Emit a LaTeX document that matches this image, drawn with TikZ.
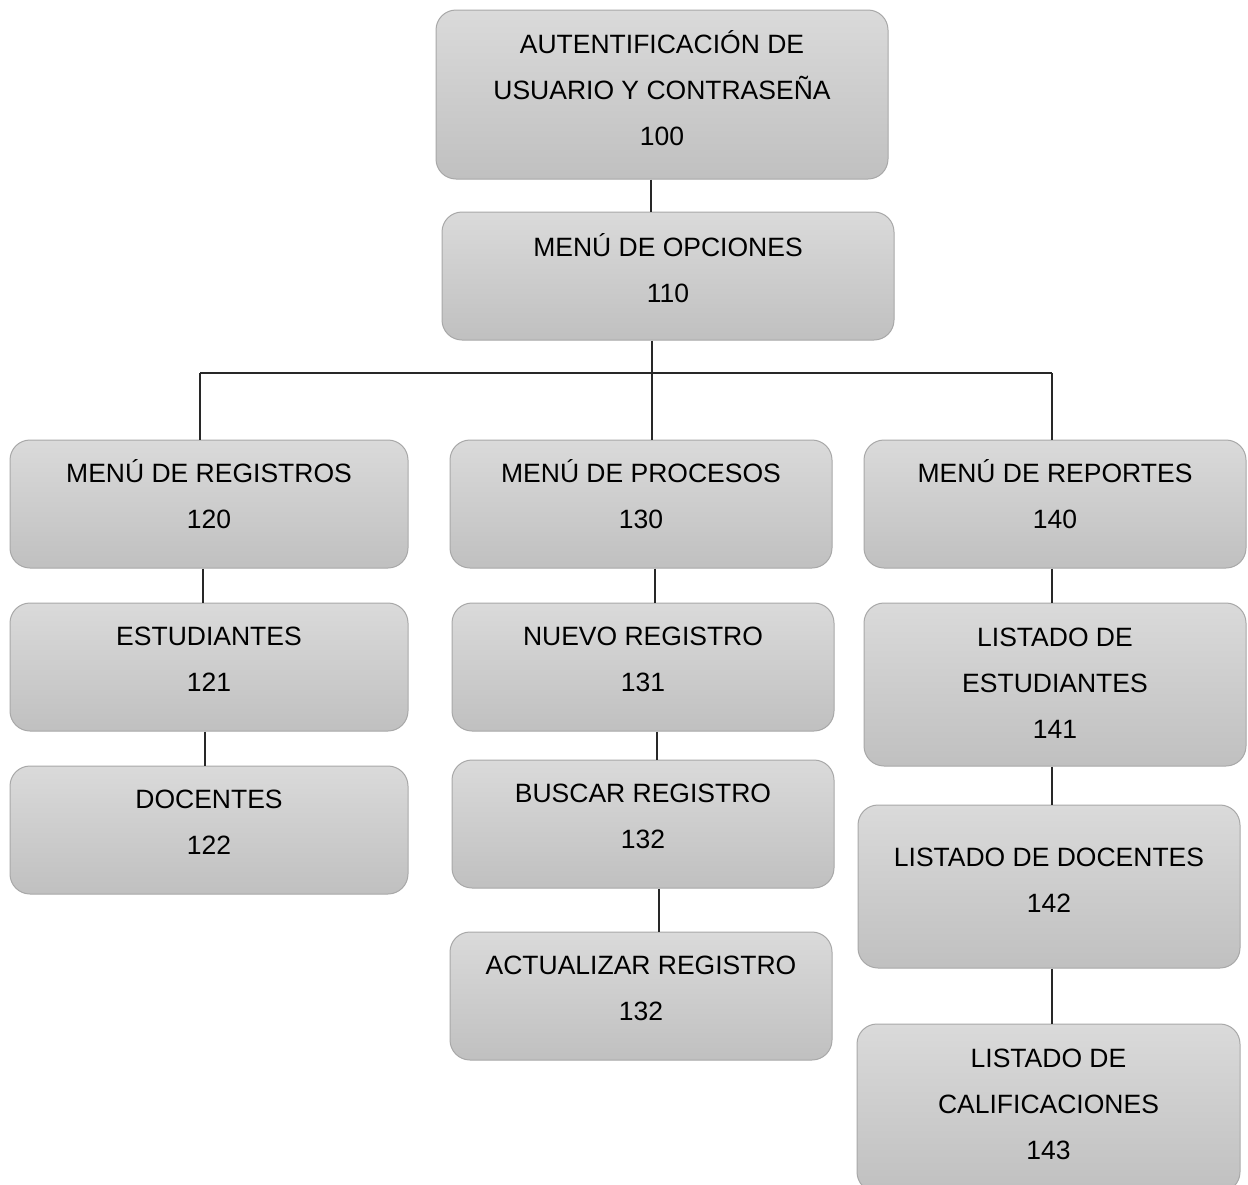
\documentclass[tikz,border=0pt]{standalone}
\usepackage{fontspec}
\setmainfont{Liberation Sans}
\definecolor{boxtop}{RGB}{218,218,218}
\definecolor{boxbot}{RGB}{192,192,192}
\definecolor{boxline}{RGB}{168,168,168}
\definecolor{linkcol}{RGB}{40,40,40}
% depth added under the last text line; a larger value lifts the text
\newcommand\menudepth{16pt}
\begin{document}
\begin{tikzpicture}[x=1pt,y=-1pt,
  menubox/.style={rectangle, rounded corners=20pt, draw=boxline, line width=1pt,
    top color=boxtop, bottom color=boxbot, align=center, inner sep=0pt,
    font=\fontsize{26.5pt}{46pt}\selectfont,
    execute at begin node={\rule{0pt}{25pt}},
    execute at end node={\rule[-\menudepth]{0pt}{0pt}}},
  textdepth/.style={/utils/exec={\def\menudepth{#1}}},
  link/.style={draw=linkcol, line width=1.2pt}]
\useasboundingbox (0,0) rectangle (1248,1184);

% top level
\node[menubox, textdepth=12pt, minimum width=452pt, minimum height=169pt] (n100) at (662,94.5)
  {AUTENTIFICACIÓN DE\\USUARIO Y CONTRASEÑA\\100};
\node[menubox, minimum width=452pt, minimum height=128pt] (n110) at (668,276)
  {MENÚ DE OPCIONES\\110};

% second level
\node[menubox, textdepth=19pt, minimum width=398pt, minimum height=128pt] (n120) at (209,504)
  {MENÚ DE REGISTROS\\120};
\node[menubox, textdepth=19pt, minimum width=382pt, minimum height=128pt] (n130) at (641,504)
  {MENÚ DE PROCESOS\\130};
\node[menubox, textdepth=19pt, minimum width=382pt, minimum height=128pt] (n140) at (1055,504)
  {MENÚ DE REPORTES\\140};

% registros
\node[menubox, minimum width=398pt, minimum height=128pt] (n121) at (209,667)
  {ESTUDIANTES\\121};
\node[menubox, minimum width=398pt, minimum height=128pt] (n122) at (209,830)
  {DOCENTES\\122};

% procesos
\node[menubox, minimum width=382pt, minimum height=128pt] (n131) at (643,667)
  {NUEVO REGISTRO\\131};
\node[menubox, minimum width=382pt, minimum height=128pt] (n132) at (643,824)
  {BUSCAR REGISTRO\\132};
\node[menubox, minimum width=382pt, minimum height=128pt] (n133) at (641,996)
  {ACTUALIZAR REGISTRO\\132};

% reportes
\node[menubox, textdepth=2pt, minimum width=382pt, minimum height=163pt] (n141) at (1055,684.5)
  {LISTADO DE\\ESTUDIANTES\\141};
\node[menubox, textdepth=12pt, minimum width=382pt, minimum height=163pt] (n142) at (1049,886.5)
  {LISTADO DE DOCENTES\\142};
\node[menubox, textdepth=8pt, minimum width=383pt, minimum height=168pt] (n143) at (1048.5,1108)
  {LISTADO DE\\CALIFICACIONES\\143};

% connectors
\coordinate (busL) at (200,373);
\coordinate (busR) at (1052,373);
\draw[link] ([xshift=-11pt]n100.south) -- ([xshift=-17pt]n110.north);
\draw[link] ([xshift=-16pt]n110.south) -- ([xshift=11pt]n130.north);
\draw[link] (busL) -- (busR);
\draw[link] (busL) -- ([xshift=-9pt]n120.north);
\draw[link] (busR) -- ([xshift=-3pt]n140.north);
\draw[link] ([xshift=-6pt]n120.south) -- ([xshift=-6pt]n121.north);
\draw[link] ([xshift=-4pt]n121.south) -- ([xshift=-4pt]n122.north);
\draw[link] ([xshift=14pt]n130.south) -- ([xshift=12pt]n131.north);
\draw[link] ([xshift=14pt]n131.south) -- ([xshift=14pt]n132.north);
\draw[link] ([xshift=16pt]n132.south) -- ([xshift=18pt]n133.north);
\draw[link] ([xshift=-3pt]n140.south) -- ([xshift=-3pt]n141.north);
\draw[link] ([xshift=-3pt]n141.south) -- ([xshift=3pt]n142.north);
\draw[link] ([xshift=3pt]n142.south) -- ([xshift=3.5pt]n143.north);
\end{tikzpicture}
\end{document}
